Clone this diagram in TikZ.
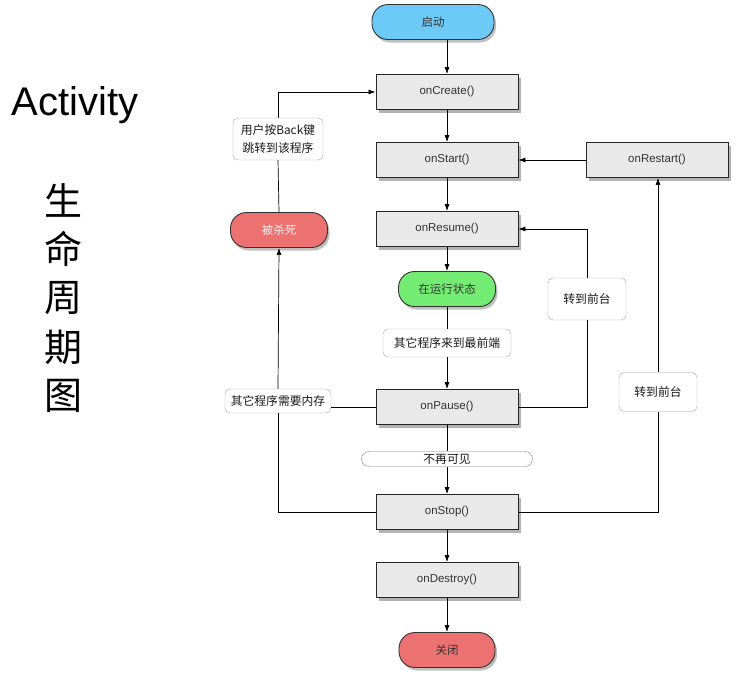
\documentclass[tikz,border=0pt]{standalone}
\usepackage{fontspec}
\setmainfont{Liberation Sans}
\newfontfamily\cjk{Noto Sans CJK SC}
\usetikzlibrary{shadows,arrows.meta}
\definecolor{pblue}{HTML}{6DCAF6}
\definecolor{pgreen}{HTML}{74EC74}
\definecolor{pred}{HTML}{EC7272}
\definecolor{boxfill}{HTML}{E9E9E9}
\begin{document}
\begin{tikzpicture}[x=1pt,y=-1pt,
  font=\fontsize{11.5}{13}\selectfont,
  method/.style={draw=black!85,line width=0.9pt,fill=boxfill,minimum width=142pt,minimum height=35pt,
     text=black!80,inner sep=0pt,drop shadow={shadow xshift=2.5pt,shadow yshift=-3.5pt,opacity=0.6}},
  pill/.style={draw=black!80,line width=0.9pt,rounded corners=16pt,minimum height=35pt,
     text=black!80,inner sep=0pt,font=\cjk\fontsize{11.5}{13}\selectfont,
     drop shadow={shadow xshift=2pt,shadow yshift=-3pt,opacity=0.5}},
  lbl/.style={draw=black!35,fill=white,rounded corners=5pt,inner sep=0pt,align=center,
     font=\cjk\fontsize{11.8}{18}\selectfont,text=black!90},
  arr/.style={-{Latex[length=7pt,width=5pt]},line width=0.7pt},
  ln/.style={line width=0.7pt}]
\useasboundingbox (0,0) rectangle (739,694);

% title
\node[font=\fontsize{40}{42}\selectfont] (title) at (75,105) {Activity};
\node[font=\cjk\fontsize{38}{40}\selectfont] (c1) at (63,200) {生};
\node[font=\cjk\fontsize{38}{40}\selectfont] (c2) at (63,249) {命};
\node[font=\cjk\fontsize{38}{40}\selectfont] (c3) at (63,298) {周};
\node[font=\cjk\fontsize{38}{40}\selectfont] (c4) at (63,347) {期};
\node[font=\cjk\fontsize{38}{40}\selectfont] (c5) at (63,396) {图};

% main states
\node[pill,fill=pblue,minimum width=122pt] (launch) at (433,22) {启动};
\node[method] (create) at (447,92) {onCreate()};
\node[method] (start) at (447,160) {onStart()};
\node[method] (restart) at (657,160) {onRestart()};
\node[method] (resume) at (447,229) {onResume()};
\node[pill,fill=pgreen,minimum width=97pt] (running) at (447,289) {在运行状态};
\node[lbl,minimum width=128pt,minimum height=28pt] (front) at (447,343) {其它程序来到最前端};
\node[method] (pause) at (447,407) {onPause()};
\node[lbl,draw=black!50,rounded corners=7.5pt,minimum width=171pt,minimum height=15pt] (invis) at (447,459) {不再可见};
\node[method] (stop) at (447,512) {onStop()};
\node[method] (destroy) at (447,580) {onDestroy()};
\node[pill,fill=pred,minimum width=96pt] (close) at (447,650) {关闭};

% left side
\node[pill,fill=pred,minimum width=97pt,text=white!90!pred] (killed) at (279,230) {被杀死};
\node[lbl,minimum width=90pt,minimum height=42pt] (back) at (278,139) {用户按Back键\\跳转到该程序};
\node[lbl,minimum width=106pt,minimum height=24pt] (mem) at (278,401) {其它程序需要内存};

% right side labels
\node[lbl,minimum width=78pt,minimum height=42pt] (fg1) at (587,299) {转到前台};
\node[lbl,minimum width=78pt,minimum height=39pt] (fg2) at (658,392) {转到前台};

% main flow
\draw[arr] (launch.south -| create.north) -- (create.north);
\draw[arr] (create) -- (start);
\draw[arr] (start) -- (resume);
\draw[arr] (resume) -- (running);
\draw[ln] (running) -- (front);
\draw[arr] (front) -- (pause);
\draw[ln] (pause) -- (invis);
\draw[arr] (invis) -- (stop);
\draw[arr] (stop) -- (destroy);
\draw[arr] (destroy) -- (close);

% restart
\draw[arr] (restart.west) -- (start.east);
\draw[ln] (pause.east) -| (fg1.south);
\draw[arr] (fg1.north) |- (resume.east);
\draw[ln] (stop.east) -| (fg2.south);
\draw[arr] (fg2.north) -- (fg2.north |- restart.south);

% killed
\draw[ln] (pause.west) -- (pause.west -| mem.east);
\draw[ln] (stop.west) -| (mem.south);
\draw[arr] (mem.north) -- (killed.south);
\draw[ln] (killed.north) -- (back.south);
\draw[arr] (back.north) |- (create.west);
\end{tikzpicture}
\end{document}
